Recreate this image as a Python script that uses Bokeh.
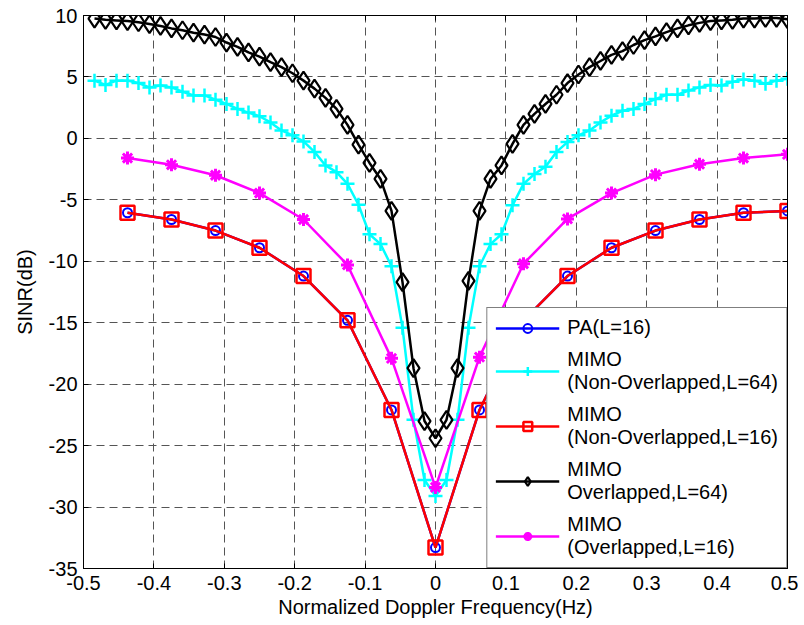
import numpy as np
from bokeh.plotting import figure
from bokeh.models import Legend, LegendItem, LinearAxis, FixedTicker, Range1d
from bokeh.embed import file_html
from bokeh.resources import INLINE

# ---------------- data ----------------
doppler_16 = [-0.4375, -0.375, -0.3125, -0.25, -0.1875, -0.125, -0.0625, 0.0,
              0.0625, 0.125, 0.1875, 0.25, 0.3125, 0.375, 0.4375, 0.5]
doppler_64 = list(np.arange(1, 65) / 64.0 - 0.5)

sinr_pa_16 = [-6.05, -6.6, -7.5, -8.9, -11.2, -14.8, -22.1, -33.3,
              -22.1, -14.8, -11.2, -8.9, -7.5, -6.6, -6.05, -5.9]
sinr_mimo_nonoverlap_16 = [-6.05, -6.6, -7.5, -8.9, -11.2, -14.8, -22.1, -33.3,
                           -22.1, -14.8, -11.2, -8.9, -7.5, -6.6, -6.05, -5.9]
sinr_mimo_overlap_16 = [-1.6, -2.15, -3.0, -4.45, -6.6, -10.3, -17.9, -28.4,
                        -17.8, -10.2, -6.55, -4.45, -2.95, -2.1, -1.6, -1.3]
sinr_mimo_nonoverlap_64 = [
    4.7, 4.35, 4.7, 4.7, 4.5, 4.15, 4.3, 4.15, 3.8, 3.5, 3.5, 3.15, 2.8, 2.4, 2.1, 1.8,
    1.3, 0.65, 0.25, -0.25, -1.1, -2.2, -2.75, -3.7, -5.4, -7.8, -8.6, -10.4, -15.4, -22.9, -27.8, -29.1,
    -27.8, -22.9, -15.4, -10.4, -8.6, -7.8, -5.45, -3.7, -2.9, -2.3, -1.1, -0.3, 0.25, 0.65, 1.3, 1.85,
    2.25, 2.4, 2.8, 3.2, 3.55, 3.55, 3.9, 4.15, 4.35, 4.3, 4.6, 4.8, 4.7, 4.45, 4.7, 4.85]
sinr_mimo_overlap_64 = [
    9.75, 9.65, 9.6, 9.55, 9.45, 9.3, 9.15, 8.95, 8.8, 8.6, 8.45, 8.25, 7.8, 7.45, 7.0, 6.65,
    6.2, 5.8, 5.3, 4.7, 4.05, 3.3, 2.4, 1.1, -0.5, -2.0, -3.3, -5.9, -11.7, -18.7, -23.0, -24.4,
    -22.9, -18.7, -11.6, -5.9, -3.3, -2.2, -0.45, 1.1, 2.0, 2.8, 3.55, 4.5, 5.2, 5.8, 6.3, 6.8,
    7.1, 7.6, 8.0, 8.3, 8.65, 8.95, 9.2, 9.4, 9.55, 9.6, 9.65, 9.75, 9.75, 9.8, 9.8, 9.7]

series_labels = ["PA(L=16)",
                 "MIMO\n(Non-Overlapped,L=64)",
                 "MIMO\n(Non-Overlapped,L=16)",
                 "MIMO\nOverlapped,L=64)",
                 "MIMO\n(Overlapped,L=16)"]

x_ticks = [-0.5, -0.4, -0.3, -0.2, -0.1, 0.0, 0.1, 0.2, 0.3, 0.4, 0.5]
x_tick_labels = ["-0.5", "-0.4", "-0.3", "-0.2", "-0.1", "0", "0.1", "0.2", "0.3", "0.4", "0.5"]
y_ticks = [-35, -30, -25, -20, -15, -10, -5, 0, 5, 10]
y_tick_labels = ["-35", "-30", "-25", "-20", "-15", "-10", "-5", "0", "5", "10"]

x_title = "Normalized Doppler Frequency(Hz)"
y_title = "SINR(dB)"

# ---------------- figure ----------------
FONT = "Liberation Sans"
p = figure(width=798, height=623, x_range=Range1d(-0.5, 0.5), y_range=Range1d(-35, 10),
           output_backend="svg", toolbar_location=None,
           min_border_left=83, min_border_right=11, min_border_top=15, min_border_bottom=55)
p.background_fill_color = "white"
p.border_fill_color = "white"
p.outline_line_color = "black"
p.outline_line_width = 1

p.xaxis.ticker = FixedTicker(ticks=x_ticks)
p.yaxis.ticker = FixedTicker(ticks=y_ticks)
p.xaxis.major_label_overrides = dict(zip(x_ticks, x_tick_labels))
p.yaxis.major_label_overrides = dict(zip(y_ticks, y_tick_labels))
p.xaxis.axis_label = x_title
p.yaxis.axis_label = y_title

for ax in (p.xaxis[0], p.yaxis[0]):
    ax.axis_line_color = "black"
    ax.major_tick_in = 5
    ax.major_tick_out = 0
    ax.minor_tick_line_color = None
    ax.major_tick_line_color = "black"
    ax.major_label_text_font = FONT
    ax.major_label_text_font_size = "20px"
    ax.major_label_text_color = "black"
    ax.axis_label_text_font = FONT
    ax.axis_label_text_font_size = "20px"
    ax.axis_label_text_font_style = "normal"
    ax.axis_label_text_color = "black"
p.xaxis.major_label_standoff = 7
p.yaxis.major_label_standoff = 6
p.xaxis.axis_label_standoff = 3
p.yaxis.axis_label_standoff = 10

# box axes (inward ticks only, no labels)
right_ax = LinearAxis(ticker=FixedTicker(ticks=y_ticks), major_tick_in=5, major_tick_out=0,
                      minor_tick_line_color=None, major_label_standoff=0,
                      major_label_overrides={t: "" for t in y_ticks})
top_ax = LinearAxis(ticker=FixedTicker(ticks=x_ticks), major_tick_in=5, major_tick_out=0,
                    minor_tick_line_color=None, major_label_standoff=0,
                    major_label_overrides={t: "" for t in x_ticks})
p.add_layout(right_ax, "right")
p.add_layout(top_ax, "above")

p.xgrid.ticker = FixedTicker(ticks=x_ticks)
p.ygrid.ticker = FixedTicker(ticks=y_ticks)
for g in (p.xgrid[0], p.ygrid[0]):
    g.grid_line_color = "#555555"
    g.grid_line_dash = "8 5"
    g.grid_line_width = 1

LW = 2.5
r_pa_l = p.line(doppler_16, sinr_pa_16, line_color="#0000ff", line_width=LW)
r_pa_m = p.scatter(doppler_16, sinr_pa_16, marker="circle", size=9, line_color="#0000ff",
                   fill_color=None, line_width=2)
r_c_l = p.line(doppler_64, sinr_mimo_nonoverlap_64, line_color="#00ffff", line_width=LW)
r_c_m = p.scatter(doppler_64, sinr_mimo_nonoverlap_64, marker="cross", size=14,
                  line_color="#00ffff", line_width=2.5)
r_r_l = p.line(doppler_16, sinr_mimo_nonoverlap_16, line_color="#ff0000", line_width=LW)
r_r_m = p.scatter(doppler_16, sinr_mimo_nonoverlap_16, marker="square", size=14,
                  line_color="#ff0000", fill_color=None, line_width=2.5)
r_k_l = p.line(doppler_64, sinr_mimo_overlap_64, line_color="black", line_width=LW)
r_k_m = p.scatter(doppler_64, sinr_mimo_overlap_64, marker="diamond", size=18,
                  line_color="black", fill_color=None, line_width=2.2)
r_m_l = p.line(doppler_16, sinr_mimo_overlap_16, line_color="#ff00ff", line_width=LW)
r_m_m = p.scatter(doppler_16, sinr_mimo_overlap_16, marker="asterisk", size=13,
                  line_color="#ff00ff", line_width=3)

legend = Legend(items=[
    LegendItem(label=series_labels[0], renderers=[r_pa_l, r_pa_m]),
    LegendItem(label=series_labels[1], renderers=[r_c_l, r_c_m]),
    LegendItem(label=series_labels[2], renderers=[r_r_l, r_r_m]),
    LegendItem(label=series_labels[3], renderers=[r_k_l, r_k_m]),
    LegendItem(label=series_labels[4], renderers=[r_m_l, r_m_m]),
], location="bottom_right", margin=0, padding=8, spacing=9, glyph_width=64, glyph_height=22,
    label_standoff=8, label_text_font=FONT, label_text_font_size="20px",
    label_text_line_height=1.35, label_text_color="black",
    border_line_color="black", border_line_width=1, background_fill_color="white",
    background_fill_alpha=1.0)
p.add_layout(legend)

open("out.html", "w").write(file_html(p, INLINE))
